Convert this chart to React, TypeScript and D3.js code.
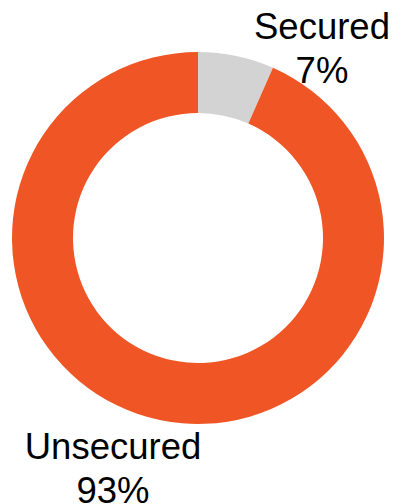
import React from "react";
import * as d3 from "d3";

const categories = ["Secured", "Unsecured"];
const values = [6.6, 93.4];
const labels = ["7%", "93%"];
const colors = ["#D3D3D3", "#F05625"];

export default function App() {
  const width = 393;
  const height = 504;
  const cx = 198;
  const cy = 238;
  const outer = 186;
  const inner = 125;
  const pie = d3.pie<number>().sort(null).value((d) => d)(values);
  const arc = d3.arc<d3.PieArcDatum<number>>().innerRadius(inner).outerRadius(outer);
  const labelPos = [
    { x: 322, y: 39 },
    { x: 113, y: 459 },
  ];
  return (
    <svg
      width={width}
      height={height}
      style={{ position: "absolute", left: 0, top: 0 }}
    >
      <g transform={`translate(${cx},${cy})`}>
        {pie.map((p, i) => (
          <path key={i} d={arc(p) || ""} fill={colors[i]} />
        ))}
      </g>
      {categories.map((c, i) => (
        <text
          key={c}
          x={labelPos[i].x}
          y={labelPos[i].y}
          textAnchor="middle"
          fontFamily="Liberation Sans, Arial, sans-serif"
          fontSize={36.5}
          fill="#000"
        >
          <tspan x={labelPos[i].x}>{c}</tspan>
          <tspan x={labelPos[i].x} dy={43.5}>{labels[i]}</tspan>
        </text>
      ))}
    </svg>
  );
}
